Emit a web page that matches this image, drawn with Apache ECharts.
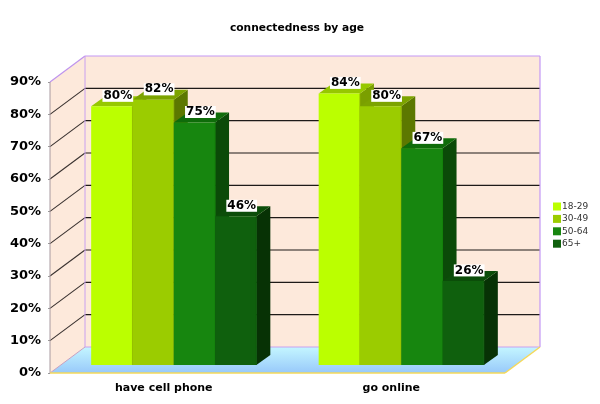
<!DOCTYPE html>
<html>
<head>
<meta charset="utf-8">
<style>html,body{margin:0;padding:0;background:#fff}#c{width:600px;height:404px}</style>
<script src="https://cdn.jsdelivr.net/npm/echarts@6/dist/echarts.min.js"></script>
</head>
<body>
<div id="c"></div>
<script>
const categories = ['have cell phone', 'go online'];
const seriesNames = ['18-29', '30-49', '50-64', '65+'];
const age1829 = [80, 84];
const age3049 = [82, 80];
const age5064 = [75, 67];
const age65 = [46, 26];
const ticks = [0, 10, 20, 30, 40, 50, 60, 70, 80, 90];
const frontColors = ['#bbff00', '#9bcc00', '#17860f', '#0f600d'];
const topColors = ['#96c800', '#7ca300', '#0f6c0a', '#0b4d09'];
const sideColors = ['#7a9f00', '#5c7800', '#0b4a08', '#073205'];
const edgeColors = ['#8db000', '#8db000', '#128009', '#0d580b'];

const values = [age1829, age3049, age5064, age65];
const backDX = 35, backDY = 26;
const barDX = 10, barDY = 8, depthX = 14, depthY = 10;
const barShare = 0.1815;

function barGeom(api, si) {
  const band = api.size([1, 0])[0];
  const w = band * barShare;
  const base = api.coord([api.value(0), 0]);
  const top = api.coord([api.value(0), api.value(1)]);
  const x = base[0] + barDX + (si - 2) * w;
  return { x, w, y0: base[1] - barDY, y1: top[1] - barDY };
}
function poly(points, fill) {
  return { type: 'polygon', shape: { points }, style: { fill }, silent: true };
}
function barSeries(si) {
  return {
    name: seriesNames[si], type: 'custom', coordinateSystem: 'cartesian2d',
    itemStyle: { color: frontColors[si] }, clip: false, z: 5,
    encode: { x: 0, y: 1 },
    data: values[si].map((v, i) => [i, v]),
    renderItem: (params, api) => {
      const g = barGeom(api, si), r = g.x + g.w;
      return { type: 'group', children: [
        poly([[r, g.y0], [r + depthX, g.y0 - depthY], [r + depthX, g.y1 - depthY], [r, g.y1]], sideColors[si]),
        poly([[g.x, g.y1], [r, g.y1], [r + depthX, g.y1 - depthY], [g.x + depthX, g.y1 - depthY]], topColors[si]),
        { type: 'rect', shape: { x: g.x, y: g.y1, width: g.w, height: g.y0 - g.y1 }, style: { fill: frontColors[si] }, silent: true },
        { type: 'line', shape: { x1: r, y1: g.y1, x2: r, y2: g.y0 }, style: { stroke: edgeColors[si], lineWidth: 1 }, silent: true }
      ] };
    }
  };
}
function labelSeries(si) {
  return {
    type: 'custom', coordinateSystem: 'cartesian2d', clip: false, z: 8, silent: true,
    encode: { x: 0, y: 1 },
    data: values[si].map((v, i) => [i, v]),
    renderItem: (params, api) => {
      const g = barGeom(api, si);
      return { type: 'text', style: {
        x: g.x + g.w / 2 + 6, y: g.y1 - 10.5, text: api.value(1) + '%',
        font: 'bold 12px "DejaVu Sans"', fill: '#000', align: 'center', verticalAlign: 'middle',
        lineHeight: 12, backgroundColor: '#fff', padding: [0, 1, 0, 1]
      } };
    }
  };
}
const frameSeries = {
  type: 'custom', coordinateSystem: 'cartesian2d', clip: false, z: 1, silent: true,
  encode: { x: 0, y: 1 }, data: [[0, 0]],
  renderItem: (params, api) => {
    const c = params.coordSys, L = c.x, R = c.x + c.width;
    const y0 = api.coord([0, 0])[1], yT = api.coord([0, ticks[ticks.length - 1]])[1];
    const kids = [
      poly([[L, y0], [L + backDX, y0 - backDY], [L + backDX, yT - backDY], [L, yT]], '#fde9db'),
      poly([[L + backDX, y0 - backDY], [R + backDX, y0 - backDY], [R + backDX, yT - backDY], [L + backDX, yT - backDY]], '#fde9db'),
      { ...poly([[L, y0], [R, y0], [R + backDX, y0 - backDY], [L + backDX, y0 - backDY]], {
        type: 'linear', x: 0, y: 0, x2: 0, y2: 1,
        colorStops: [{ offset: 0, color: '#c4f6ff' }, { offset: 1, color: '#98c9fa' }]
      }) }
    ];
    const seg = (x1, y1, x2, y2, stroke, lineWidth) => ({ type: 'line', shape: { x1, y1, x2, y2 }, style: { stroke, lineWidth }, silent: true });
    ticks.slice(1, -1).forEach(t => {
      const y = api.coord([0, t])[1];
      kids.push(seg(L, y, L + backDX, y - backDY, '#3a3230', 1.1));
      kids.push(seg(L + backDX, y - backDY, R + backDX, y - backDY, '#1e1a18', 1.2));
    });
    kids.push(seg(L, yT, L + backDX, yT - backDY, '#bf94ee', 1.2));
    kids.push(seg(L + backDX, yT - backDY, R + backDX, yT - backDY, '#c398f5', 1.2));
    kids.push(seg(R + backDX, yT - backDY, R + backDX, y0 - backDY, '#c398f5', 1.2));
    kids.push(seg(L + backDX, yT - backDY, L + backDX, y0 - backDY, '#c9a0f0', 1));
    kids.push(seg(L + backDX, y0 - backDY, R + backDX, y0 - backDY, '#c9a0f0', 1));
    kids.push(seg(L, yT, L, y0, '#a89aa0', 1));
    kids.push(seg(L, y0, L + backDX, y0 - backDY, '#c9a0c0', 1));
    kids.push(seg(L, y0, R, y0, '#f5d95a', 1.5));
    kids.push(seg(R, y0, R + backDX, y0 - backDY, '#f5d95a', 1.5));
    return { type: 'group', children: kids };
  }
};

const chart = echarts.init(document.getElementById('c'), null, { renderer: 'canvas' });
chart.setOption({
  animation: false,
  backgroundColor: '#fff',
  title: { text: 'connectedness by age', left: 292, top: 18, textAlign: 'center',
    textStyle: { fontFamily: 'DejaVu Sans', fontWeight: 'bold', fontSize: 10.7, color: '#000' } },
  legend: { data: seriesNames, orient: 'vertical', left: 548, top: 197, itemWidth: 8, itemHeight: 8, itemGap: 3.4, icon: 'rect',
    selectedMode: false, textStyle: { fontFamily: 'DejaVu Sans', fontSize: 9, color: '#333', padding: [0, 0, 0, -4] } },
  grid: { left: 50, right: 95, top: 82, bottom: 31 },
  xAxis: { type: 'category', data: categories, axisLine: { show: false }, axisTick: { show: false }, splitLine: { show: false },
    axisLabel: { margin: 10, fontFamily: 'DejaVu Sans', fontWeight: 'bold', fontSize: 11, color: '#000' } },
  yAxis: { type: 'value', min: 0, max: 90, interval: 10, axisLine: { show: false }, splitLine: { show: false },
    axisTick: { show: true, length: 2, lineStyle: { color: '#999' } },
    axisLabel: { margin: 9, formatter: '{value}%', fontFamily: 'DejaVu Sans', fontWeight: 'bold', fontSize: 13, color: '#000' } },
  series: [frameSeries, barSeries(0), barSeries(1), barSeries(2), barSeries(3), labelSeries(0), labelSeries(1), labelSeries(2), labelSeries(3)]
});
</script>
</body>
</html>
